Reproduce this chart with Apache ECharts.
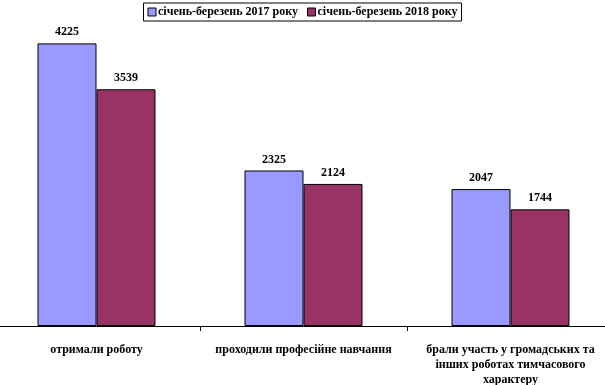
<!DOCTYPE html>
<html><head><meta charset="utf-8">
<script src="https://cdn.jsdelivr.net/npm/echarts@6/dist/echarts.min.js"></script>
<style>html,body{margin:0;padding:0;background:#fff}#c{width:605px;height:385px}</style>
</head><body><div id="c"></div>
<script>
const categories = ['отримали роботу', 'проходили професійне навчання', 'брали участь у громадських та\nінших роботах тимчасового\nхарактеру'];
const seriesNames = ['січень-березень 2017 року', 'січень-березень 2018 року'];
const values2017 = [4225, 2325, 2047];
const values2018 = [3539, 2124, 1744];
const colors = ['#9999FF', '#993366'];
const font = '"Liberation Serif","Times New Roman",serif';
const chart = echarts.init(document.getElementById('c'));
chart.setOption({
  animation: false,
  textStyle: {fontFamily: font},
  legend: {
    top: 3, left: 'center',
    data: seriesNames,
    itemWidth: 8, itemHeight: 8, itemGap: 9,
    borderColor: '#000', borderWidth: 1, padding: [3, 4, 3, 4],
    icon: 'rect',
    itemStyle: {borderColor: '#000', borderWidth: 1},
    textStyle: {fontFamily: font, fontWeight: 'bold', fontSize: 12, color: '#000', padding: [0, 0, 0, -3]}
  },
  grid: {left: -7, width: 621, top: 25, height: 301, containLabel: false, outerBoundsMode: 'none'},
  xAxis: {
    type: 'category', data: categories,
    axisLine: {lineStyle: {color: '#000', width: 1}},
    axisTick: {show: true, length: 5, lineStyle: {color: '#000'}},
    axisLabel: {fontFamily: font, fontWeight: 'bold', fontSize: 12, color: '#000', margin: 16, lineHeight: 15, interval: 0}
  },
  yAxis: {type: 'value', min: 0, max: 4500, show: false, splitLine: {show: false}},
  series: [
    {name: seriesNames[0], type: 'bar', data: values2017, barGap: '0%', barCategoryGap: '43%',
     itemStyle: {color: colors[0], borderColor: '#000', borderWidth: 1},
     label: {show: true, position: 'top', distance: 5, fontFamily: font, fontWeight: 'bold', fontSize: 12, color: '#000'}},
    {name: seriesNames[1], type: 'bar', data: values2018, barGap: '0%', barCategoryGap: '43%',
     itemStyle: {color: colors[1], borderColor: '#000', borderWidth: 1},
     label: {show: true, position: 'top', distance: 5, fontFamily: font, fontWeight: 'bold', fontSize: 12, color: '#000'}}
  ]
});
</script></body></html>
